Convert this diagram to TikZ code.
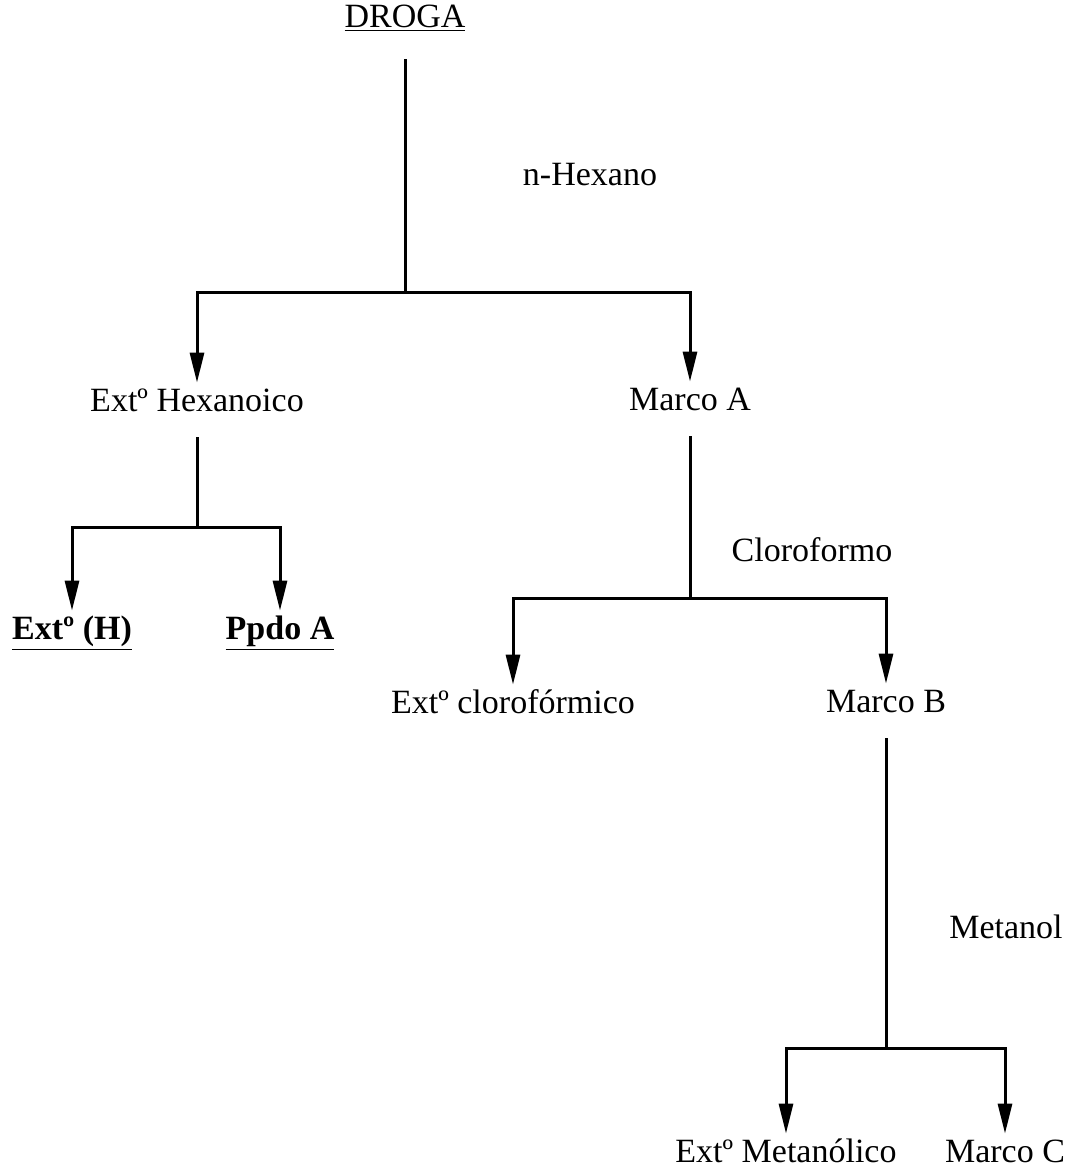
\documentclass[tikz,border=0pt]{standalone}
\usepackage{fontspec}
\setmainfont{Liberation Serif}
\usetikzlibrary{arrows.meta}

\tikzset{
  paso/.style={font=\fontsize{17}{20}\selectfont, inner sep=2pt,
    text height=12pt, text depth=3pt},
  solvente/.style={font=\fontsize{17}{20}\selectfont},
  rama/.style={line width=1.5pt, -{Triangle[width=7pt,length=15pt]}},
  tallo/.style={line width=1.5pt, shorten <=8pt},
}

\begin{document}
\begin{tikzpicture}[x=0.5pt,y=-0.5pt]
          \useasboundingbox (0,0) rectangle (1075,1173);

          % etapas
          \node[paso] (droga) at (405,18) {\underline{DROGA}};
          \node[paso] (hex) at (197,402) {Extº Hexanoico};
          \node[paso] (marcoA) at (690,401) {Marco A};
          \node[paso] (extH) at (72,630) {\textbf{\underline{Extº (H)}}};
          \node[paso] (ppdo) at (280,630) {\textbf{\underline{Ppdo A}}};
          \node[paso] (cloro) at (513,704) {Extº clorofórmico};
          \node[paso] (marcoB) at (886,703) {Marco B};
          \node[paso] (metan) at (786,1153) {Extº Metanólico};
          \node[paso] (marcoC) at (1005,1153) {Marco C};

          % disolventes
          \node[solvente] (nhex) at (590,175) {n-Hexano};
          \node[solvente] (clf) at (812,550) {Cloroformo};
          \node[solvente] (meoh) at (1006,927) {Metanol};

          % bifurcaciones
          \coordinate (b1) at (droga |- 0,292);
          \coordinate (b2) at (hex |- 0,527);
          \coordinate (b3) at (marcoA |- 0,598);
          \coordinate (b4) at (marcoB |- 0,1048);

          \draw[tallo, shorten <=11pt] (droga) -- (b1);
          \draw[rama] (b1) -| (hex);
          \draw[rama] (b1) -| (marcoA);

          \draw[tallo] (hex) -- (b2);
          \draw[rama] (b2) -| (extH);
          \draw[rama] (b2) -| (ppdo);

          \draw[tallo] (marcoA) -- (b3);
          \draw[rama] (b3) -| (cloro);
          \draw[rama] (b3) -| (marcoB);

          \draw[tallo] (marcoB) -- (b4);
          \draw[rama] (b4) -| (metan);
          \draw[rama] (b4) -| (marcoC);
\end{tikzpicture}
\end{document}
